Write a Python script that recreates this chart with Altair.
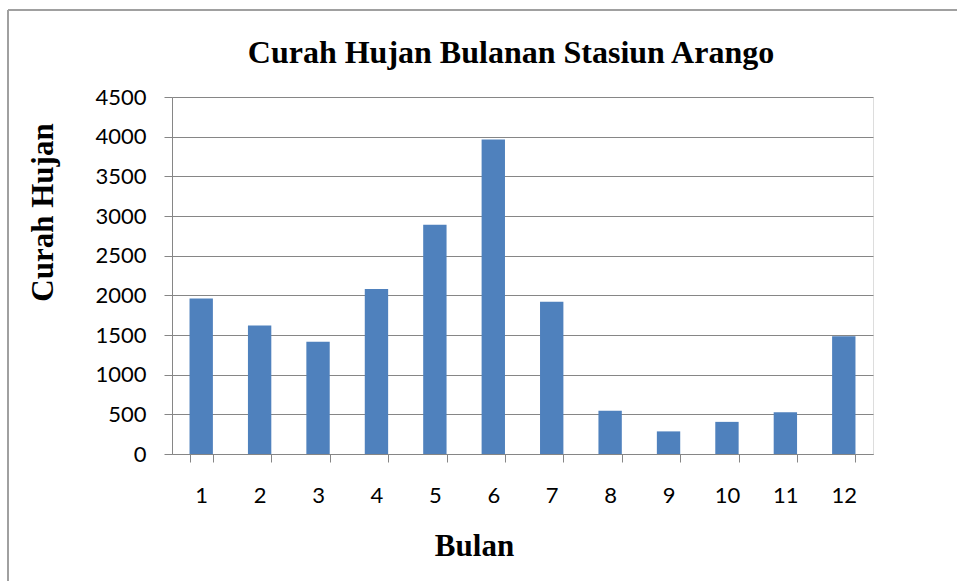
import altair as alt
import pandas as pd

months = ["1", "2", "3", "4", "5", "6", "7", "8", "9", "10", "11", "12"]
rainfall = [1960, 1620, 1415, 2080, 2890, 3965, 1920, 545, 285, 405, 525, 1485]
chart_title = "Curah Hujan Bulanan Stasiun Arango"

df = pd.DataFrame({"Bulan": months, "Curah Hujan": rainfall})
title_df = pd.DataFrame({"t": [chart_title]})

serif = "Liberation Serif"
sans = "Lato"
grid_color = "#868686"

bars = alt.Chart(df).mark_bar(color="#4F81BD").encode(
    x=alt.X(
        "Bulan:N",
        sort=months,
        scale=alt.Scale(paddingInner=0.6, paddingOuter=0.3),
        axis=alt.Axis(
            title="Bulan",
            titleFont=serif,
            titleFontSize=31,
            titleFontWeight="bold",
            titleColor="#000000",
            titleX=302,
            titleY=101,
            titleBaseline="alphabetic",
            titleAnchor="start",
            titleAlign="center",
            labelFont=sans,
            labelFontSize=22,
            labelColor="#000000",
            labelAngle=0,
            labelPadding=23,
            tickBand="extent",
            tickSize=8,
            tickColor=grid_color,
            domainColor=grid_color,
            grid=False,
        ),
    ),
    y=alt.Y(
        "Curah Hujan:Q",
        scale=alt.Scale(domain=[0, 4500], nice=False),
        axis=alt.Axis(
            title="Curah Hujan",
            titleFont=serif,
            titleFontSize=31,
            titleFontWeight="bold",
            titleColor="#000000",
            titleAngle=-90,
            titleX=-120,
            titleY=115,
            titleBaseline="alphabetic",
            titleAlign="center",
            values=list(range(0, 4501, 500)),
            format="d",
            labelFont=sans,
            labelFontSize=22,
            labelColor="#000000",
            labelPadding=18,
            tickSize=8,
            tickColor=grid_color,
            domainColor=grid_color,
            gridColor=grid_color,
            gridWidth=1,
        ),
    ),
)

title_mark = alt.Chart(title_df).mark_text(
    font=serif,
    fontSize=32,
    fontWeight="bold",
    color="#000000",
    align="center",
    baseline="alphabetic",
).encode(text="t:N", x=alt.value(339), y=alt.value(-34))

frame_left = alt.Chart(title_df).mark_rule(color="#a0a0a0", strokeWidth=2).encode(
    x=alt.value(-164), y=alt.value(-87), y2=alt.value(500)
)
frame_top = alt.Chart(title_df).mark_rule(color="#a0a0a0", strokeWidth=2).encode(
    x=alt.value(-164), x2=alt.value(800), y=alt.value(-87)
)

chart = alt.layer(frame_left, frame_top, title_mark, bars).properties(
    width=701,
    height=357,
    autosize=alt.AutoSizeParams(type="none"),
    padding={"left": 172, "top": 97, "right": 84, "bottom": 127},
).configure_view(stroke=None).configure(background="white")

chart.save("out.html", embed_options={"renderer": "svg", "actions": False})
